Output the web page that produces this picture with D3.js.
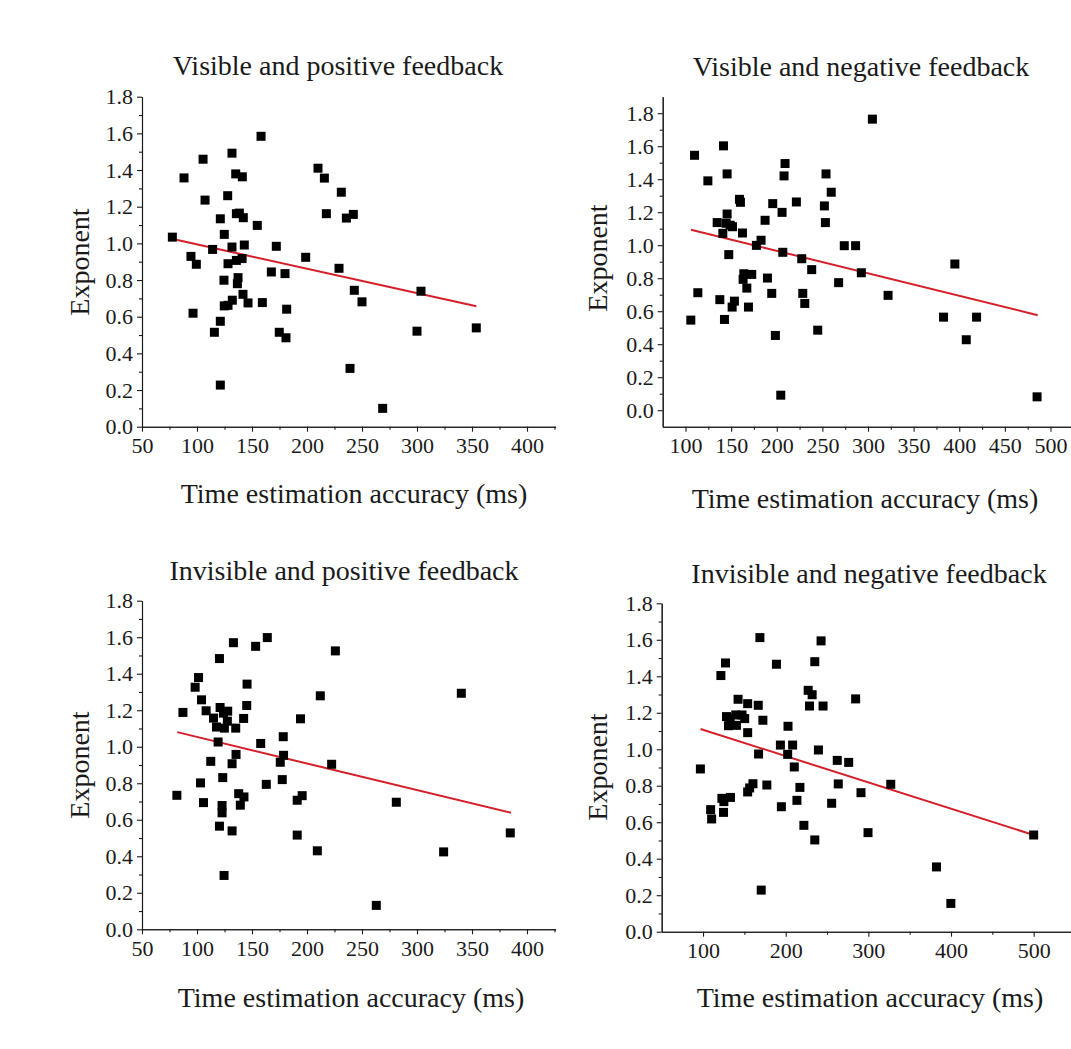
<!DOCTYPE html>
<html>
<head>
<meta charset="utf-8">
<script src="https://cdn.jsdelivr.net/npm/d3@7"></script>
<style>
  body { margin: 0; background: #fff; }
  svg { display: block; font-family: "Liberation Serif", "Times New Roman", serif; }
  .axis path, .axis line { stroke: #1a1a1a; stroke-width: 1.1; }
  .axis text { fill: #1a1a1a; font-size: 22px; font-family: "Liberation Serif", serif; }
</style>
</head>
<body>
<svg id="chart" width="1071" height="1049"></svg>
<script>
// Visible and positive feedback
const vpX = [77.6, 88.2, 105.5, 107.3, 94.5, 99.4, 96.4, 114.2, 115.8, 121.2, 121.2, 121.2, 124.8, 127.9,
  131.8, 135.2, 141.2, 135.8, 138.5, 142.1, 143.0, 131.8, 128.2, 135.8, 141.0, 124.5, 137.3, 136.7,
  132.1, 124.8, 128.2, 141.8, 146.4, 154.8, 158.2, 159.4, 172.1, 167.6, 180.0, 181.5, 174.8, 180.9,
  198.8, 210.0, 215.8, 231.2, 217.6, 235.8, 242.1, 229.1, 243.0, 250.0, 303.6, 300.0, 353.9, 239.1, 268.8];
const vpY = [1.034, 1.357, 1.459, 1.236, 0.929, 0.886, 0.619, 0.967, 0.515, 0.575, 0.227, 1.134, 1.049, 1.26,
  1.492, 1.379, 1.363, 1.162, 1.165, 1.14, 0.991, 0.98, 0.889, 0.907, 0.917, 0.799, 0.813, 0.78,
  0.69, 0.659, 0.662, 0.722, 0.675, 1.098, 1.584, 0.677, 0.984, 0.844, 0.835, 0.641, 0.515, 0.485,
  0.924, 1.41, 1.356, 1.279, 1.162, 1.138, 1.158, 0.864, 0.744, 0.681, 0.739, 0.521, 0.539, 0.318, 0.1];
const vpFitX = [77, 354];
const vpFitY = [1.025, 0.657];

// Visible and negative feedback
const vnX = [105.8, 109.9, 113.5, 124.5, 134.7, 140.9, 137.6, 141.6, 142.7, 145.6, 145.6, 144.5, 148.9,
  151.5, 147.4, 151.1, 153.6, 159.1, 160.2, 162.4, 163.9, 163.1, 167.2, 169.0, 172.6, 177.7, 182.8,
  187.2, 189.8, 194.5, 195.6, 198.5, 204.4, 205.8, 206.6, 208.0, 209.1, 221.5, 227.4, 228.5, 230.7,
  238.3, 244.9, 252.2, 253.3, 254.0, 259.7, 274.0, 286.4, 292.7, 267.8, 304.8, 322.0, 382.8, 395.2,
  419.0, 407.7, 485.3];
const vnY = [0.546, 1.545, 0.712, 1.39, 1.137, 1.072, 0.67, 1.602, 0.55, 1.432, 1.189, 1.133, 1.121,
  1.112, 0.943, 0.625, 0.661, 1.278, 1.26, 1.074, 0.827, 0.793, 0.74, 0.625, 0.823, 0.999, 1.03,
  1.151, 0.801, 0.708, 1.252, 0.453, 0.091, 1.199, 0.957, 1.42, 1.495, 1.262, 0.918, 0.708, 0.647,
  0.852, 0.485, 1.238, 1.137, 1.432, 1.321, 0.997, 0.997, 0.833, 0.773, 1.764, 0.696, 0.564, 0.886,
  0.564, 0.427, 0.081];
const vnFitX = [106, 486];
const vnFitY = [1.094, 0.576];

// Invisible and positive feedback
const ipX = [81.7, 87.2, 98.3, 101.4, 104.1, 108.3, 103.2, 105.9, 112.5, 115.0, 117.7, 120.4, 121.0,
  119.2, 124.0, 127.9, 127.6, 124.9, 123.4, 122.8, 122.8, 120.4, 124.6, 131.9, 131.9, 135.5, 133.1,
  135.2, 137.9, 139.4, 142.7, 142.4, 145.5, 145.2, 153.3, 157.9, 163.0, 163.9, 175.7, 178.4, 178.7,
  177.5, 191.1, 191.1, 194.1, 195.6, 225.8, 212.1, 222.4, 209.4, 281.2, 324.2, 340.3, 384.8, 263.0];
const ipY = [0.734, 1.188, 1.326, 1.379, 1.257, 1.197, 0.802, 0.694, 0.92, 1.157, 1.108, 1.483, 1.215,
  1.026, 1.184, 1.195, 1.14, 1.102, 0.831, 0.678, 0.638, 0.565, 0.295, 0.539, 0.907, 0.958, 1.57,
  1.102, 0.743, 0.68, 0.725, 1.155, 1.343, 1.226, 1.55, 1.018, 0.794, 1.598, 0.915, 1.055, 0.953,
  0.82, 0.707, 0.516, 1.153, 0.732, 1.525, 1.279, 0.904, 0.43, 0.696, 0.424, 1.293, 0.528, 0.131];
const ipFitX = [82, 385.5];
const ipFitY = [1.08, 0.638];

// Invisible and negative feedback
const inX = [96.8, 109.2, 110.4, 121.6, 127.2, 122.8, 124.8, 125.2, 133.2, 128.4, 130.8, 132.8, 139.6,
  142.4, 140.4, 147.2, 150.4, 154.0, 154.0, 154.0, 156.4, 160.4, 166.8, 167.2, 168.8, 172.4, 170.4,
  177.2, 188.8, 193.6, 194.8, 202.8, 202.4, 208.4, 210.4, 213.6, 217.2, 222.0, 227.2, 232.0, 228.8,
  235.2, 235.2, 239.6, 242.8, 245.2, 255.6, 284.6, 262.4, 276.2, 263.6, 291.1, 299.6, 327.1, 382.4,
  399.8, 500.0];
const inY = [0.892, 0.669, 0.618, 1.404, 1.473, 0.731, 0.654, 0.713, 0.736, 1.179, 1.129, 1.171, 1.188,
  1.274, 1.131, 1.188, 1.168, 1.25, 1.091, 0.766, 0.788, 0.811, 1.241, 0.974, 1.612, 1.159, 0.228,
  0.804, 1.466, 1.023, 0.685, 1.126, 0.972, 1.023, 0.903, 0.72, 0.791, 0.583, 1.323, 1.299, 1.237,
  1.48, 0.503, 0.996, 1.594, 1.237, 0.704, 1.276, 0.939, 0.928, 0.81, 0.762, 0.543, 0.808, 0.355,
  0.155, 0.53];
const inFitX = [97, 500];
const inFitY = [1.111, 0.53];

const titles = ["Visible and positive feedback", "Visible and negative feedback",
  "Invisible and positive feedback", "Invisible and negative feedback"];
const xLabel = "Time estimation accuracy (ms)";
const yLabel = "Exponent";

const seq = (start, step, n) => d3.range(n).map(i => +(start + i * step).toFixed(2));

// panel layout (pixels) and axis setup
const panels = [
  { title: titles[0], xs: vpX, ys: vpY, fx: vpFitX, fy: vpFitY,
    xDomain: [50, 426], xRange: [142, 555.6], yDomain: [0, 1.8], yRange: [426.7, 96.7],
    xMajor: seq(50, 50, 8), xMinor: seq(75, 50, 8), yMajor: seq(0, 0.2, 10), yMinor: seq(0.1, 0.2, 9),
    titlePos: [338, 75], xLabPos: [354, 503], yLabPos: [89, 262] },
  { title: titles[1], xs: vnX, ys: vnY, fx: vnFitX, fy: vnFitY,
    xDomain: [75, 525], xRange: [662.7, 1073.3], yDomain: [-0.1, 1.9], yRange: [426.7, 96.7],
    xMajor: seq(100, 50, 9), xMinor: seq(125, 50, 9), yMajor: seq(0, 0.2, 10), yMinor: seq(-0.1, 0.2, 11),
    titlePos: [861, 76], xLabPos: [865, 508], yLabPos: [607, 258] },
  { title: titles[2], xs: ipX, ys: ipY, fx: ipFitX, fy: ipFitY,
    xDomain: [50, 426], xRange: [142, 555.6], yDomain: [0, 1.8], yRange: [929.3, 600.7],
    xMajor: seq(50, 50, 8), xMinor: seq(75, 50, 8), yMajor: seq(0, 0.2, 10), yMinor: seq(0.1, 0.2, 9),
    titlePos: [344, 580], xLabPos: [351, 1007], yLabPos: [89, 765] },
  { title: titles[3], xs: inX, ys: inY, fx: inFitX, fy: inFitY,
    xDomain: [50, 550], xRange: [661.7, 1075], yDomain: [0, 1.8], yRange: [931.7, 603.3],
    xMajor: seq(100, 100, 5), xMinor: seq(150, 100, 5), yMajor: seq(0, 0.2, 10), yMinor: seq(0.1, 0.2, 9),
    titlePos: [869, 583], xLabPos: [870, 1007], yLabPos: [607, 767] }
];

const svg = d3.select("#chart");
const SQ = 9; // marker side

panels.forEach(p => {
  const x = d3.scaleLinear().domain(p.xDomain).range(p.xRange);
  const y = d3.scaleLinear().domain(p.yDomain).range(p.yRange);
  const g = svg.append("g");
  const x0 = p.xRange[0], y0 = p.yRange[0];

  // minor ticks first, then major with labels
  g.append("g").attr("class", "axis").attr("transform", `translate(0,${y0})`)
    .call(d3.axisBottom(x).tickValues(p.xMinor.filter(v => v > p.xDomain[0] && v < p.xDomain[1]))
      .tickSize(3).tickSizeOuter(0).tickFormat(""));
  g.append("g").attr("class", "axis").attr("transform", `translate(0,${y0})`)
    .call(d3.axisBottom(x).tickValues(p.xMajor).tickSize(5).tickSizeOuter(0).tickPadding(6)
      .tickFormat(d3.format("d")));

  g.append("g").attr("class", "axis").attr("transform", `translate(${x0},0)`)
    .call(d3.axisLeft(y).tickValues(p.yMinor.filter(v => v > p.yDomain[0] && v < p.yDomain[1]))
      .tickSize(3).tickSizeOuter(0).tickFormat(""));
  g.append("g").attr("class", "axis").attr("transform", `translate(${x0},0)`)
    .call(d3.axisLeft(y).tickValues(p.yMajor).tickSize(5).tickSizeOuter(0).tickPadding(4)
      .tickFormat(d3.format(".1f")));

  // regression line
  g.append("line")
    .attr("x1", x(p.fx[0])).attr("y1", y(p.fy[0]))
    .attr("x2", x(p.fx[1])).attr("y2", y(p.fy[1]))
    .attr("stroke", "#d41f2a").attr("stroke-width", 2);

  // square markers
  g.append("g").selectAll("rect")
    .data(p.xs.map((v, i) => [v, p.ys[i]]))
    .join("rect")
    .attr("x", d => x(d[0]) - SQ / 2)
    .attr("y", d => y(d[1]) - SQ / 2)
    .attr("width", SQ).attr("height", SQ)
    .attr("fill", "#000");

  g.append("text")
    .attr("x", p.titlePos[0]).attr("y", p.titlePos[1])
    .attr("text-anchor", "middle").style("font-size", "28px").attr("fill", "#1a1a1a")
    .text(p.title);

  g.append("text")
    .attr("x", p.xLabPos[0]).attr("y", p.xLabPos[1])
    .attr("text-anchor", "middle").style("font-size", "28px").attr("fill", "#1a1a1a")
    .text(xLabel);

  g.append("text")
    .attr("transform", `translate(${p.yLabPos[0]},${p.yLabPos[1]}) rotate(-90)`)
    .attr("text-anchor", "middle").style("font-size", "28px").attr("fill", "#1a1a1a")
    .text(yLabel);
});
</script>
</body>
</html>
